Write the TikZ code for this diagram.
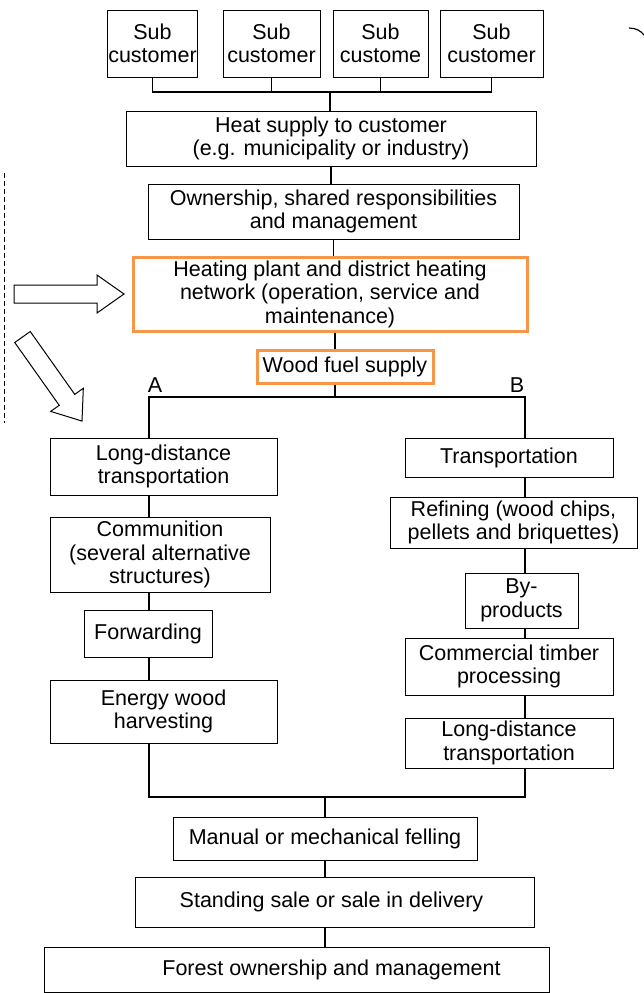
\documentclass[tikz,border=0pt]{standalone}
\usepackage{fontspec}
\setmainfont{Liberation Sans}
\usepackage{tikz}
\usetikzlibrary{positioning}
\definecolor{plantorange}{RGB}{247,150,70}

\begin{document}
\begin{tikzpicture}[x=1pt, y=-1pt,
    box/.style={draw, line width=1pt, align=center, inner sep=0.5pt, font=\fontsize{21.5}{23.5}\selectfont},
    hotbox/.style={box, draw=plantorange, line width=3pt},
    link/.style={line width=1.6pt},
    branchlabel/.style={font=\fontsize{21.5}{23.5}\selectfont, anchor=base, inner sep=0pt}]
  \useasboundingbox (0,0) rectangle (644,993);
  % Nodes
  \node[box, minimum width=85pt, minimum height=67pt] (sub1) at (152.5,43.5) {Sub\\customer};
  \node[box, minimum width=97pt, minimum height=67pt] (sub2) at (271.5,43.5) {Sub\\customer};
  \node[box, minimum width=95pt, minimum height=67pt] (sub3) at (380.5,43.5) {Sub\\custome};
  \node[box, minimum width=103pt, minimum height=67pt] (sub4) at (491.5,43.5) {Sub\\customer};
  \node[box, minimum width=410pt, minimum height=55pt] (heat) at (331,138.5) {Heat supply to customer\\(e.g. municipality or industry)};
  \node[box, minimum width=371pt, minimum height=55pt] (own) at (333.5,211.5) {Ownership, shared responsibilities\\and management};
  \node[hotbox, minimum width=394pt, minimum height=74pt] (plant) at (330,294) {Heating plant and district heating\\network (operation, service and\\maintenance)};
  \node[hotbox, minimum width=176pt, minimum height=33pt] (wood) at (345,366.5) {Wood fuel supply};
  \node[branchlabel] (labA) at (155,392) {A};
  \node[branchlabel] (labB) at (517,392) {B};
  % branch A
  \node[box, minimum width=227pt, minimum height=57pt] (ldA) at (163.5,466.5) {Long-distance\\transportation};
  \node[box, minimum width=220pt, minimum height=75pt] (comm) at (160,554.5) {Communition\\(several alternative\\structures)};
  \node[box, minimum width=128pt, minimum height=47pt] (fwd) at (148,633.5) {Forwarding};
  \node[box, minimum width=227pt, minimum height=63pt] (harv) at (163.5,711.5) {Energy wood\\harvesting};
  % branch B
  \node[box, minimum width=208pt, minimum height=39pt] (trans) at (509,457.5) {Transportation};
  \node[box, minimum width=247pt, minimum height=51pt] (refine) at (513.5,522.5) {Refining (wood chips,\\pellets and briquettes)};
  \node[box, minimum width=113pt, minimum height=55pt] (byprod) at (521.5,600.5) {By-\\products};
  \node[box, minimum width=208pt, minimum height=57pt] (timber) at (509,666.5) {Commercial timber\\processing};
  \node[box, minimum width=208pt, minimum height=50pt] (ldB) at (509,743) {Long-distance\\transportation};
  % common trunk
  \node[box, minimum width=304pt, minimum height=43pt] (fell) at (325,838.5) {Manual or mechanical felling};
  \node[box, minimum width=399pt, minimum height=50pt] (sale) at (334.5,902) {\hspace*{-6pt}Standing sale or sale in delivery};
  \node[box, minimum width=505pt, minimum height=45pt] (forest) at (296.5,969.5) {\hspace*{70pt}Forest ownership and management};
  % Joints
  \coordinate (topbus) at (330,92);
  \coordinate (fuelbus) at (335,397);
  \coordinate (colA) at (149,397);
  \coordinate (colB) at (525,397);
  \coordinate (lowbus) at (325,797);
  % Edges
  \draw[link] (sub1.south) -- (sub1.south |- topbus) -- (sub4.south |- topbus) -- (sub4.south);
  \foreach \s in {sub2,sub3}
    \draw[link] (\s.south) -- (\s.south |- topbus);
  \draw[link] (topbus) -- (topbus |- heat.north);
  \draw[link] (heat.south) -- (heat.south |- own.north);
  \draw[link] (own.south) -- (own.south |- plant.north);
  \draw[link] (fuelbus |- plant.south) -- (fuelbus |- wood.north);
  \draw[link] (fuelbus |- wood.south) -- (fuelbus);
  \draw[link] (colA |- ldA.north) -- (colA) -- (colB) -- (colB |- trans.north);
  \draw[link] (colA |- ldA.south) -- (colA |- comm.north);
  \draw[link] (colA |- comm.south) -- (colA |- fwd.north);
  \draw[link] (colA |- fwd.south) -- (colA |- harv.north);
  \draw[link] (colB |- trans.south) -- (colB |- refine.north);
  \draw[link] (colB |- refine.south) -- (colB |- byprod.north);
  \draw[link] (colB |- byprod.south) -- (colB |- timber.north);
  \draw[link] (colB |- timber.south) -- (colB |- ldB.north);
  \draw[link] (colA |- harv.south) -- (colA |- lowbus) -- (colB |- lowbus) -- (colB |- ldB.south);
  \draw[link] (lowbus) -- (lowbus |- fell.north);
  \draw[link] (fell.south) -- (fell.south |- sale.north);
  \draw[link] (lowbus |- sale.south) -- (lowbus |- forest.north);
  % Side marks
  \draw[line width=0.9pt, dash pattern=on 5pt off 3pt] (4,173) -- (4,423);
  \draw[line width=1pt] (14,285) -- (97,285) -- (97,275) -- (124,294) -- (97,313) -- (97,303) -- (14,303) -- cycle;
  \begin{scope}[shift={(22.5,337)}, rotate=-54.7]
    \draw[line width=1pt] (0,-9.5) -- (77,-9.5) -- (77,-20) -- (103,0) -- (77,20) -- (77,9.5) -- (0,9.5) -- cycle;
  \end{scope}
  \draw[line width=1.2pt] (629,28) .. controls (636,28) and (641,31) .. (644,35);
\end{tikzpicture}
\end{document}
